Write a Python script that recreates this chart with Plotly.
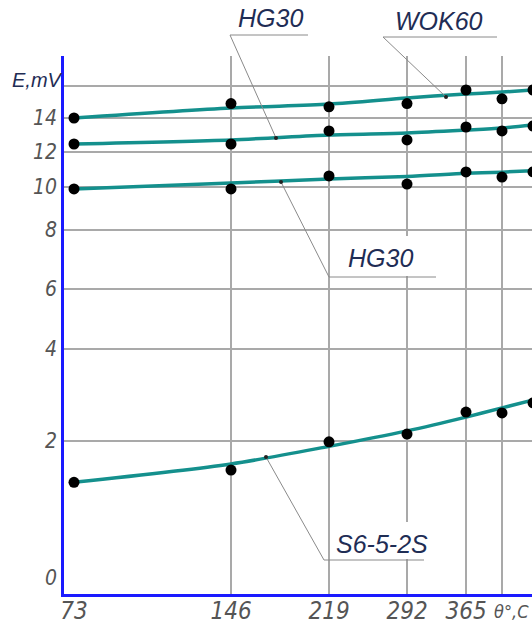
import numpy as np
import plotly.graph_objects as go

# ---------------- data ----------------
temps = [73, 146, 219, 292, 365, 438, 511]          # temperature columns
x_tick_labels = ["73", "146", "219", "292", "365"]
y_tick_values = [0, 2, 4, 6, 8, 10, 12, 14]

wok60_pts = [14.0, 14.9, 14.7, 14.9, 15.75, 15.2, 15.75]
wok60_fit = [14.0, 14.62, 14.87, 15.25, 15.5, 15.62, 15.75]
hg30a_pts = [12.47, 12.47, 13.24, 12.71, 13.47, 13.24, 13.53]
hg30a_fit = [12.47, 12.71, 13.0, 13.12, 13.29, 13.41, 13.59]
hg30b_pts = [9.91, 9.91, 10.63, 10.17, 10.86, 10.57, 10.86]
hg30b_fit = [9.91, 10.23, 10.46, 10.6, 10.78, 10.85, 10.93]
s6_pts = [1.46, 1.62, 1.99, 2.15, 2.63, 2.61, 2.83]
s6_fit = [1.46, 1.70, 1.93, 2.22, 2.52, 2.72, 2.89]

# ---------------- axis scales (non-uniform drawing scales) ----------------
X_SCALE_VAL = [73, 146, 219, 292, 365, 438, 511]
X_SCALE_POS = [10, 167, 265, 343, 402, 438, 469]
Y_SCALE_VAL = [0, 2, 4, 6, 8, 10, 12, 14, 16, 18]
Y_SCALE_POS = [0, 153, 245, 305, 364, 407, 442, 476, 508, 537]


def sx(v):
    return np.interp(v, X_SCALE_VAL, X_SCALE_POS)


def sy(v):
    return np.interp(v, Y_SCALE_VAL, Y_SCALE_POS)


W, H = 532, 628
ML, MR, MT, MB = 64, 0, 56, 34
PW, PH = W - ML - MR, H - MT - MB
X_RANGE = [0, PW]
Y_RANGE = [0, PH]

TEAL = "#14908d"
BLUE = "#1a1aff"
GRID = "#a9a9a9"
TXT = "#1f2d55"
LEAD = "#8a8a8a"


def px(x):
    return (x - ML) / PW


def py(y):
    return (H - MB - y) / PH


fig = go.Figure()

for fit, pts in [(wok60_fit, wok60_pts), (hg30a_fit, hg30a_pts),
                 (hg30b_fit, hg30b_pts), (s6_fit, s6_pts)]:
    fig.add_trace(go.Scatter(x=sx(temps), y=sy(fit), mode="lines",
                             line=dict(color=TEAL, width=3.5, shape="spline", smoothing=0.8),
                             hoverinfo="skip", showlegend=False))
    fig.add_trace(go.Scatter(x=sx(temps), y=sy(pts), mode="markers",
                             marker=dict(color="black", size=11),
                             showlegend=False))

# invisible trace for label axes
fig.add_trace(go.Scatter(x=[sx(73)], y=[sy(0)], xaxis="x2", yaxis="y2",
                         mode="markers", marker=dict(opacity=0), showlegend=False,
                         hoverinfo="skip"))

tick_font_y = dict(family="Liberation Sans Narrow, DejaVu Sans Condensed, Liberation Sans",
                   size=21, color="#555555", style="italic")
tick_font_x = dict(family="Liberation Sans Narrow, DejaVu Sans Condensed, Liberation Sans",
                   size=24, color="#555555", style="italic")

y_label_pos = list(sy(y_tick_values))
y_label_pos[0] += 16

fig.update_layout(
    width=W, height=H,
    margin=dict(l=ML, r=MR, t=MT, b=MB),
    plot_bgcolor="white", paper_bgcolor="white",
    xaxis=dict(range=X_RANGE, tickvals=list(sx(temps[1:])), showticklabels=False,
               showgrid=True, gridcolor=GRID, gridwidth=1.5, zeroline=False,
               showline=True, linecolor=BLUE, linewidth=3, ticks=""),
    yaxis=dict(range=Y_RANGE, tickvals=list(sy(Y_SCALE_VAL[1:])), showticklabels=False,
               showgrid=True, gridcolor=GRID, gridwidth=1.5, zeroline=False,
               showline=True, linecolor=BLUE, linewidth=3, ticks=""),
    xaxis2=dict(range=X_RANGE, overlaying="x", anchor="y", side="bottom",
                tickvals=list(sx(temps[:5])), ticktext=x_tick_labels,
                showgrid=False, zeroline=False, showline=False, ticks="",
                tickfont=tick_font_x, ticklabelstandoff=0),
    yaxis2=dict(range=Y_RANGE, overlaying="y", anchor="x", side="left",
                tickvals=y_label_pos, ticktext=[str(v) for v in y_tick_values],
                showgrid=False, zeroline=False, showline=False, ticks="",
                tickfont=tick_font_y, ticklabelstandoff=6),
)

shapes = []
# white masks behind the lower labels
shapes.append(dict(type="rect", xref="paper", yref="paper", x0=px(340), x1=px(428),
                   y0=py(276), y1=py(236), fillcolor="white", line=dict(width=0), layer="above"))
shapes.append(dict(type="rect", xref="paper", yref="paper", x0=px(334), x1=px(430),
                   y0=py(559), y1=py(522), fillcolor="white", line=dict(width=0), layer="above"))
leaders = [
    [(230, 35), (308, 35)], [(230, 35), (276, 138)],
    [(383, 37), (497, 37)], [(383, 37), (446, 97)],
    [(329, 277), (436, 277)], [(329, 277), (281, 182)],
    [(324, 560), (424, 560)], [(324, 560), (266, 457)],
]
for (a, b) in leaders:
    shapes.append(dict(type="line", xref="paper", yref="paper",
                       x0=px(a[0]), y0=py(a[1]), x1=px(b[0]), y1=py(b[1]),
                       line=dict(color=LEAD, width=1), layer="above"))
for (cx, cy) in [(276, 138), (446, 97), (281, 182), (266, 457)]:
    shapes.append(dict(type="circle", xref="paper", yref="paper",
                       x0=px(cx - 2), x1=px(cx + 2), y0=py(cy - 2), y1=py(cy + 2),
                       fillcolor="#222", line=dict(width=0), layer="above"))
fig.update_layout(shapes=shapes)

lab_font = dict(family="Liberation Sans, Arial", size=25, color=TXT, style="italic")
for text, (cx, cy) in [("HG30", (270, 18)), ("WOK60", (439, 21)),
                       ("HG30", (380, 258)), ("S6-5-2S", (382, 544))]:
    fig.add_annotation(text=text, xref="paper", yref="paper", x=px(cx), y=py(cy),
                       xanchor="center", yanchor="middle", showarrow=False, font=lab_font)

fig.add_annotation(text="E,mV", xref="paper", yref="paper", x=px(37), y=py(80),
                   xanchor="center", yanchor="middle", showarrow=False,
                   font=dict(family="Liberation Sans Narrow, Liberation Sans", size=20,
                             color=TXT, style="italic"))
fig.add_annotation(text="θ°,C", xref="paper", yref="paper", x=px(531), y=py(611),
                   xanchor="right", yanchor="middle", showarrow=False,
                   font=dict(family="Liberation Sans Narrow, DejaVu Sans Condensed, Liberation Sans",
                             size=18, color="#555555", style="italic"))

fig.write_html("out.html")
